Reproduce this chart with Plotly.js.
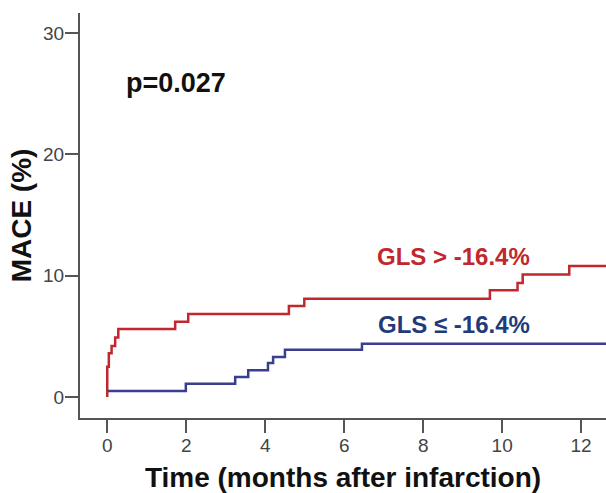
<!DOCTYPE html>
<html>
<head>
<meta charset="utf-8">
<script src="https://cdn.plot.ly/plotly-3.0.1.min.js"></script>
<style>html,body{margin:0;padding:0;background:#fff;}#chart{width:606px;height:493px;}</style>
</head>
<body>
<div id="chart"></div>
<script>
// Kaplan-Meier cumulative MACE (%) step data
const redTime = [0, 0, 0.04, 0.11, 0.2, 0.28, 1.72, 2.05, 4.6, 4.99, 9.69, 10.39, 10.52, 11.7, 12.8];
const redMACE = [0, 2.5, 3.6, 4.2, 4.9, 5.6, 6.2, 6.85, 7.5, 8.1, 8.8, 9.4, 10.1, 10.8, 10.8];
const blueTime = [0, 1.99, 3.24, 3.57, 4.07, 4.2, 4.5, 6.45, 12.8];
const blueMACE = [0.5, 1.1, 1.65, 2.2, 2.8, 3.3, 3.9, 4.4, 4.4];
const xTicks = [0, 2, 4, 6, 8, 10, 12];
const yTicks = [0, 10, 20, 30];
const redLabel = 'GLS > -16.4%';
const blueLabel = 'GLS ≤ -16.4%';
const pLabel = 'p=0.027';

const FONT = 'Liberation Sans, Arial, sans-serif';
const redColor = '#c0282e';
const blueColor = '#3a3e8e';

const traces = [
  {x: redTime, y: redMACE, mode: 'lines', line: {shape: 'hv', color: redColor, width: 2.5}, name: redLabel, hoverinfo: 'skip'},
  {x: blueTime, y: blueMACE, mode: 'lines', line: {shape: 'hv', color: blueColor, width: 2.5}, name: blueLabel, hoverinfo: 'skip'}
];

const axisCommon = {
  showgrid: false, zeroline: false, showline: true, linecolor: '#555', linewidth: 2,
  ticks: 'outside', ticklen: 13, tickwidth: 2, tickcolor: '#555',
  tickfont: {family: FONT, size: 19, color: '#444'}
};

const layout = {
  width: 606, height: 493,
  margin: {l: 80, r: 0, t: 13, b: 75},
  paper_bgcolor: '#fff', plot_bgcolor: '#fff',
  showlegend: false,
  xaxis: Object.assign({}, axisCommon, {
    range: [-0.69, 12.63], tickvals: xTicks, ticktext: xTicks.map(String),
    ticklabelstandoff: -4,
    title: {text: 'Time (months after infarction)', font: {family: FONT, size: 28, color: '#111', weight: 'bold'}, standoff: 15}
  }),
  yaxis: Object.assign({}, axisCommon, {
    range: [-1.73, 31.66], tickvals: yTicks, ticktext: yTicks.map(String),
    ticklabelstandoff: -3,
    title: {text: 'MACE (%)', font: {family: FONT, size: 28, color: '#111', weight: 'bold'}, standoff: 3}
  }),
  annotations: [
    {text: pLabel, x: 1.74, y: 25.9, xref: 'x', yref: 'y', showarrow: false, font: {family: FONT, size: 27, color: '#111', weight: 'bold'}},
    {text: redLabel, x: 8.77, y: 11.57, xref: 'x', yref: 'y', showarrow: false, font: {family: FONT, size: 24, color: redColor, weight: 'bold'}},
    {text: blueLabel, x: 8.78, y: 5.94, xref: 'x', yref: 'y', showarrow: false, font: {family: FONT, size: 24, color: '#1f3b7a', weight: 'bold'}}
  ]
};

Plotly.newPlot('chart', traces, layout, {displayModeBar: false, staticPlot: true});
</script>
</body>
</html>
